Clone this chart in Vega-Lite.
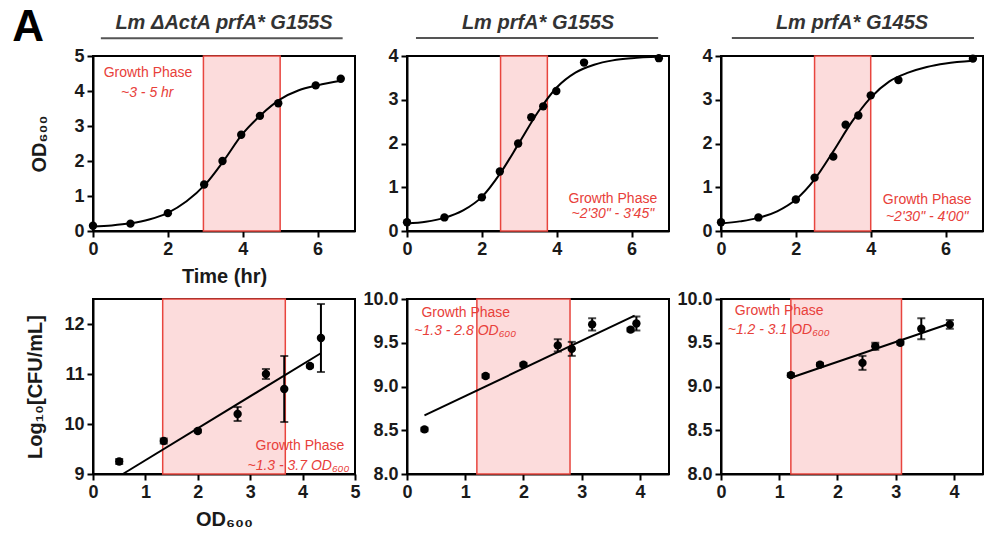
{
  "$schema": "https://vega.github.io/schema/vega-lite/v6.json",
  "padding": {"left": 11, "top": 5, "right": 5, "bottom": 5},
  "config": {
    "font": "Liberation Sans",
    "view": {"stroke": "black", "strokeWidth": 2},
    "axis": {"grid": false, "domainColor": "black", "domainWidth": 2, "tickColor": "black", "tickWidth": 2, "tickSize": 6, "labelFont": "Liberation Sans", "labelFontSize": 18, "labelFontWeight": "bold", "labelColor": "#1a1a1a", "labelPadding": 3, "labelFlush": false, "labelOverlap": false, "titleFont": "Liberation Sans", "titleFontSize": 20, "titleFontWeight": "bold", "titleColor": "#1a1a1a"},
    "axisY": {"titlePadding": 22},
    "axisX": {"titlePadding": 8},
    "title": {"font": "Liberation Sans", "fontSize": 20, "fontWeight": "bold", "fontStyle": "italic", "color": "#333333", "offset": 4}
  },
  "columns": 3,
  "spacing": {"row": 68, "column": 52},
  "bounds": "flush",
  "concat": [
    {
      "width": 262, "height": 175,
      "title": "Lm ΔActA prfA* G155S",
      "layer": [
        {"data": {"values": [{"start": 2.95, "end": 5.0}]}, "mark": {"type": "rect", "fill": "#fcdcdc", "stroke": "#e8453e", "strokeWidth": 1.5}, "encoding": {"x": {"field": "start", "type": "quantitative", "title": "Time (hr)"}, "x2": {"field": "end"}}},
        {"data": {"values": [{}]}, "mark": {"type": "rule", "color": "#555555", "strokeWidth": 2}, "encoding": {"x": {"datum": 0.21}, "x2": {"datum": 6.67}, "y": {"datum": 5.51}}},
        {"data": {"values": [{}]}, "mark": {"type": "text", "text": "Growth Phase", "fontSize": 14, "color": "#e8403a", "align": "center", "baseline": "alphabetic"}, "encoding": {"x": {"datum": 1.47}, "y": {"datum": 4.39}}},
        {"data": {"values": [{}]}, "mark": {"type": "text", "text": "~3 - 5 hr", "fontSize": 14, "fontStyle": "italic", "color": "#e8403a", "align": "center", "baseline": "alphabetic"}, "encoding": {"x": {"datum": 1.45}, "y": {"datum": 3.84}}},
        {"data": {"values": [{"t":0,"od":0.13},{"t":0.5,"od":0.16},{"t":1,"od":0.22},{"t":1.5,"od":0.33},{"t":2,"od":0.52},{"t":2.5,"od":0.85},{"t":3,"od":1.33},{"t":3.5,"od":2.02},{"t":4,"od":2.78},{"t":4.5,"od":3.33},{"t":5,"od":3.76},{"t":5.5,"od":4.02},{"t":6,"od":4.16},{"t":6.62,"od":4.29}]}, "mark": {"type": "line", "color": "black", "strokeWidth": 2, "interpolate": "monotone"}, "encoding": {"x": {"field": "t", "type": "quantitative", "title": "Time (hr)"}, "y": {"field": "od", "type": "quantitative", "title": "OD₆₀₀"}}},
        {"data": {"values": [{"t":0,"od":0.15},{"t":1,"od":0.21},{"t":2,"od":0.51},{"t":2.97,"od":1.33},{"t":3.46,"od":2.0},{"t":3.96,"od":2.75},{"t":4.46,"od":3.29},{"t":4.95,"od":3.65},{"t":5.95,"od":4.16},{"t":6.62,"od":4.35}]}, "mark": {"type": "circle", "color": "black", "size": 70, "opacity": 1}, "encoding": {
          "x": {"field": "t", "type": "quantitative", "scale": {"domain": [0, 7], "nice": false}, "axis": {"title": "Time (hr)", "values": [0,2,4,6], "format": "d", "labelOverlap": false}},
          "y": {"field": "od", "type": "quantitative", "scale": {"domain": [0, 5], "nice": false}, "axis": {"title": "OD₆₀₀", "titlePadding": 24, "values": [0,1,2,3,4,5], "tickCount": 6, "format": "d", "labelOverlap": false}}}}
      ]
    },
    {
      "width": 262, "height": 175,
      "title": "Lm prfA* G155S",
      "layer": [
        {"data": {"values": [{"start": 2.5, "end": 3.75}]}, "mark": {"type": "rect", "fill": "#fcdcdc", "stroke": "#e8453e", "strokeWidth": 1.5}, "encoding": {"x": {"field": "start", "type": "quantitative", "title": null}, "x2": {"field": "end"}}},
        {"data": {"values": [{}]}, "mark": {"type": "rule", "color": "#555555", "strokeWidth": 2}, "encoding": {"x": {"datum": 0.24}, "x2": {"datum": 6.71}, "y": {"datum": 4.41}}},
        {"data": {"values": [{}]}, "mark": {"type": "text", "text": "Growth Phase", "fontSize": 14, "color": "#e8403a", "align": "center", "baseline": "alphabetic"}, "encoding": {"x": {"datum": 5.5}, "y": {"datum": 0.63}}},
        {"data": {"values": [{}]}, "mark": {"type": "text", "text": "~2'30\" - 3'45\"", "fontSize": 14, "fontStyle": "italic", "color": "#e8403a", "align": "center", "baseline": "alphabetic"}, "encoding": {"x": {"datum": 5.5}, "y": {"datum": 0.29}}},
        {"data": {"values": [{"t":0,"od":0.17},{"t":0.5,"od":0.21},{"t":1,"od":0.3},{"t":1.5,"od":0.47},{"t":2,"od":0.78},{"t":2.5,"od":1.33},{"t":3,"od":2.02},{"t":3.5,"od":2.72},{"t":4,"od":3.28},{"t":4.5,"od":3.62},{"t":5,"od":3.8},{"t":5.5,"od":3.9},{"t":6,"od":3.95},{"t":6.73,"od":3.98}]}, "mark": {"type": "line", "color": "black", "strokeWidth": 2, "interpolate": "monotone"}, "encoding": {"x": {"field": "t", "type": "quantitative", "title": null}, "y": {"field": "od", "type": "quantitative", "title": null}}},
        {"data": {"values": [{"t":0,"od":0.2},{"t":1,"od":0.31},{"t":2,"od":0.77},{"t":2.48,"od":1.36},{"t":2.97,"od":2.0},{"t":3.32,"od":2.6},{"t":3.64,"od":2.85},{"t":3.99,"od":3.2},{"t":4.73,"od":3.85},{"t":6.73,"od":3.95}]}, "mark": {"type": "circle", "color": "black", "size": 70, "opacity": 1}, "encoding": {
          "x": {"field": "t", "type": "quantitative", "scale": {"domain": [0, 7], "nice": false}, "axis": {"title": null, "values": [0,2,4,6], "format": "d", "labelOverlap": false}},
          "y": {"field": "od", "type": "quantitative", "scale": {"domain": [0, 4], "nice": false}, "axis": {"title": null, "values": [0,1,2,3,4], "format": "d", "labelOverlap": false}}}}
      ]
    },
    {
      "width": 262, "height": 175,
      "title": "Lm prfA* G145S",
      "layer": [
        {"data": {"values": [{"start": 2.5, "end": 4.0}]}, "mark": {"type": "rect", "fill": "#fcdcdc", "stroke": "#e8453e", "strokeWidth": 1.5}, "encoding": {"x": {"field": "start", "type": "quantitative", "title": null}, "x2": {"field": "end"}}},
        {"data": {"values": [{}]}, "mark": {"type": "rule", "color": "#555555", "strokeWidth": 2}, "encoding": {"x": {"datum": 0.29}, "x2": {"datum": 6.76}, "y": {"datum": 4.41}}},
        {"data": {"values": [{}]}, "mark": {"type": "text", "text": "Growth Phase", "fontSize": 14, "color": "#e8403a", "align": "center", "baseline": "alphabetic"}, "encoding": {"x": {"datum": 5.51}, "y": {"datum": 0.62}}},
        {"data": {"values": [{}]}, "mark": {"type": "text", "text": "~2'30\" - 4'00\"", "fontSize": 14, "fontStyle": "italic", "color": "#e8403a", "align": "center", "baseline": "alphabetic"}, "encoding": {"x": {"datum": 5.51}, "y": {"datum": 0.24}}},
        {"data": {"values": [{"t":0,"od":0.17},{"t":0.5,"od":0.22},{"t":1,"od":0.3},{"t":1.5,"od":0.45},{"t":2,"od":0.72},{"t":2.5,"od":1.18},{"t":3,"od":1.82},{"t":3.5,"od":2.5},{"t":4,"od":3.05},{"t":4.5,"od":3.42},{"t":5,"od":3.62},{"t":5.5,"od":3.75},{"t":6,"od":3.83},{"t":6.73,"od":3.89}]}, "mark": {"type": "line", "color": "black", "strokeWidth": 2, "interpolate": "monotone"}, "encoding": {"x": {"field": "t", "type": "quantitative", "title": null}, "y": {"field": "od", "type": "quantitative", "title": null}}},
        {"data": {"values": [{"t":0,"od":0.2},{"t":1,"od":0.31},{"t":2,"od":0.72},{"t":2.5,"od":1.22},{"t":3,"od":1.7},{"t":3.33,"od":2.43},{"t":3.67,"od":2.64},{"t":4,"od":3.1},{"t":4.74,"od":3.45},{"t":6.73,"od":3.94}]}, "mark": {"type": "circle", "color": "black", "size": 70, "opacity": 1}, "encoding": {
          "x": {"field": "t", "type": "quantitative", "scale": {"domain": [0, 7], "nice": false}, "axis": {"title": null, "values": [0,2,4,6], "format": "d", "labelOverlap": false}},
          "y": {"field": "od", "type": "quantitative", "scale": {"domain": [0, 4], "nice": false}, "axis": {"title": null, "values": [0,1,2,3,4], "format": "d", "labelOverlap": false}}}}
      ]
    },
    {
      "width": 262, "height": 175,
      "layer": [
        {"data": {"values": [{"start": 1.33, "end": 3.67}]}, "mark": {"type": "rect", "fill": "#fcdcdc", "stroke": "#e8453e", "strokeWidth": 1.5}, "encoding": {"x": {"field": "start", "type": "quantitative", "title": "OD₆₀₀"}, "x2": {"field": "end"}}},
        {"data": {"values": [{}]}, "mark": {"type": "text", "text": "Growth Phase", "fontSize": 14, "color": "#e8403a", "align": "center", "baseline": "alphabetic"}, "encoding": {"x": {"datum": 3.95}, "y": {"datum": 9.48}}},
        {"data": {"values": [{}]}, "mark": {"type": "text", "text": "~1.3 - 3.7 OD₆₀₀", "fontSize": 14, "fontStyle": "italic", "color": "#e8403a", "align": "center", "baseline": "alphabetic"}, "encoding": {"x": {"datum": 3.92}, "y": {"datum": 9.075}}},
        {"data": {"values": [{}]}, "mark": {"type": "text", "text": "A", "fontSize": 44, "fontWeight": "bold", "color": "black", "align": "center", "baseline": "alphabetic"}, "encoding": {"x": {"datum": -1.24}, "y": {"datum": 17.66}}},
        {"data": {"values": [{"od":0.57,"cfu":9.0},{"od":4.34,"cfu":11.41}]}, "mark": {"type": "line", "color": "black", "strokeWidth": 2}, "encoding": {"x": {"field": "od", "type": "quantitative", "title": "OD₆₀₀"}, "y": {"field": "cfu", "type": "quantitative", "title": "Log₁₀[CFU/mL]"}}},
        {"data": {"values": [{"od":0.5,"cfu":9.25,"err":0.05},{"od":1.35,"cfu":9.66,"err":0.05},{"od":2.0,"cfu":9.86,"err":0.03},{"od":2.76,"cfu":10.2,"err":0.14},{"od":3.3,"cfu":11.0,"err":0.1},{"od":3.65,"cfu":10.7,"err":0.66},{"od":4.14,"cfu":11.16,"err":0.03},{"od":4.35,"cfu":11.72,"err":0.68}]}, "mark": {"type": "errorbar", "ticks": true, "thickness": 2, "size": 8, "color": "black"}, "encoding": {"x": {"field": "od", "type": "quantitative", "title": "OD₆₀₀"}, "y": {"field": "cfu", "type": "quantitative", "title": "Log₁₀[CFU/mL]"}, "yError": {"field": "err"}}},
        {"data": {"values": [{"od":0.5,"cfu":9.25},{"od":1.35,"cfu":9.66},{"od":2.0,"cfu":9.86},{"od":2.76,"cfu":10.2},{"od":3.3,"cfu":11.0},{"od":3.65,"cfu":10.7},{"od":4.14,"cfu":11.16},{"od":4.35,"cfu":11.72}]}, "mark": {"type": "circle", "color": "black", "size": 70, "opacity": 1}, "encoding": {
          "x": {"field": "od", "type": "quantitative", "scale": {"domain": [0, 5], "nice": false}, "axis": {"title": "OD₆₀₀", "values": [0,1,2,3,4,5], "tickCount": 6, "format": "d", "labelOverlap": false}},
          "y": {"field": "cfu", "type": "quantitative", "scale": {"domain": [9, 12.5], "nice": false, "zero": false}, "axis": {"title": "Log₁₀[CFU/mL]", "titlePadding": 18, "values": [9,10,11,12], "format": "d", "labelOverlap": false}}}}
      ]
    },
    {
      "width": 262, "height": 175,
      "layer": [
        {"data": {"values": [{"start": 1.2, "end": 2.8}]}, "mark": {"type": "rect", "fill": "#fcdcdc", "stroke": "#e8453e", "strokeWidth": 1.5}, "encoding": {"x": {"field": "start", "type": "quantitative", "title": null}, "x2": {"field": "end"}}},
        {"data": {"values": [{}]}, "mark": {"type": "text", "text": "Growth Phase", "fontSize": 14, "color": "#e8403a", "align": "center", "baseline": "alphabetic"}, "encoding": {"x": {"datum": 1.01}, "y": {"datum": 9.8}}},
        {"data": {"values": [{}]}, "mark": {"type": "text", "text": "~1.3 - 2.8 OD₆₀₀", "fontSize": 14, "fontStyle": "italic", "color": "#e8403a", "align": "center", "baseline": "alphabetic"}, "encoding": {"x": {"datum": 1.0}, "y": {"datum": 9.59}}},
        {"data": {"values": [{"od":0.3,"cfu":8.67},{"od":3.91,"cfu":9.81}]}, "mark": {"type": "line", "color": "black", "strokeWidth": 2}, "encoding": {"x": {"field": "od", "type": "quantitative", "title": null}, "y": {"field": "cfu", "type": "quantitative", "title": null}}},
        {"data": {"values": [{"od":0.3,"cfu":8.51,"err":0.02},{"od":1.35,"cfu":9.12,"err":0.02},{"od":2.0,"cfu":9.25,"err":0.02},{"od":2.59,"cfu":9.47,"err":0.07},{"od":2.83,"cfu":9.43,"err":0.08},{"od":3.18,"cfu":9.71,"err":0.07},{"od":3.84,"cfu":9.65,"err":0.02},{"od":3.94,"cfu":9.72,"err":0.08}]}, "mark": {"type": "errorbar", "ticks": true, "thickness": 2, "size": 8, "color": "black"}, "encoding": {"x": {"field": "od", "type": "quantitative", "title": null}, "y": {"field": "cfu", "type": "quantitative", "title": null}, "yError": {"field": "err"}}},
        {"data": {"values": [{"od":0.3,"cfu":8.51},{"od":1.35,"cfu":9.12},{"od":2.0,"cfu":9.25},{"od":2.59,"cfu":9.47},{"od":2.83,"cfu":9.43},{"od":3.18,"cfu":9.71},{"od":3.84,"cfu":9.65},{"od":3.94,"cfu":9.72}]}, "mark": {"type": "circle", "color": "black", "size": 70, "opacity": 1}, "encoding": {
          "x": {"field": "od", "type": "quantitative", "scale": {"domain": [0, 4.5], "nice": false}, "axis": {"title": null, "values": [0,1,2,3,4], "format": "d", "labelOverlap": false}},
          "y": {"field": "cfu", "type": "quantitative", "scale": {"domain": [8, 10], "nice": false, "zero": false}, "axis": {"title": null, "values": [8,8.5,9,9.5,10], "format": ".1f", "labelOverlap": false}}}}
      ]
    },
    {
      "width": 262, "height": 175,
      "layer": [
        {"data": {"values": [{"start": 1.2, "end": 3.1}]}, "mark": {"type": "rect", "fill": "#fcdcdc", "stroke": "#e8453e", "strokeWidth": 1.5}, "encoding": {"x": {"field": "start", "type": "quantitative", "title": null}, "x2": {"field": "end"}}},
        {"data": {"values": [{}]}, "mark": {"type": "text", "text": "Growth Phase", "fontSize": 14, "color": "#e8403a", "align": "center", "baseline": "alphabetic"}, "encoding": {"x": {"datum": 1.0}, "y": {"datum": 9.82}}},
        {"data": {"values": [{}]}, "mark": {"type": "text", "text": "~1.2 - 3.1 OD₆₀₀", "fontSize": 14, "fontStyle": "italic", "color": "#e8403a", "align": "center", "baseline": "alphabetic"}, "encoding": {"x": {"datum": 0.99}, "y": {"datum": 9.6}}},
        {"data": {"values": [{"od":1.2,"cfu":9.1},{"od":3.93,"cfu":9.72}]}, "mark": {"type": "line", "color": "black", "strokeWidth": 2}, "encoding": {"x": {"field": "od", "type": "quantitative", "title": null}, "y": {"field": "cfu", "type": "quantitative", "title": null}}},
        {"data": {"values": [{"od":1.2,"cfu":9.13,"err":0.02},{"od":1.7,"cfu":9.25,"err":0.02},{"od":2.43,"cfu":9.27,"err":0.08},{"od":2.65,"cfu":9.46,"err":0.04},{"od":3.08,"cfu":9.5,"err":0.02},{"od":3.44,"cfu":9.66,"err":0.12},{"od":3.93,"cfu":9.71,"err":0.05}]}, "mark": {"type": "errorbar", "ticks": true, "thickness": 2, "size": 8, "color": "black"}, "encoding": {"x": {"field": "od", "type": "quantitative", "title": null}, "y": {"field": "cfu", "type": "quantitative", "title": null}, "yError": {"field": "err"}}},
        {"data": {"values": [{"od":1.2,"cfu":9.13},{"od":1.7,"cfu":9.25},{"od":2.43,"cfu":9.27},{"od":2.65,"cfu":9.46},{"od":3.08,"cfu":9.5},{"od":3.44,"cfu":9.66},{"od":3.93,"cfu":9.71}]}, "mark": {"type": "circle", "color": "black", "size": 70, "opacity": 1}, "encoding": {
          "x": {"field": "od", "type": "quantitative", "scale": {"domain": [0, 4.5], "nice": false}, "axis": {"title": null, "values": [0,1,2,3,4], "format": "d", "labelOverlap": false}},
          "y": {"field": "cfu", "type": "quantitative", "scale": {"domain": [8, 10], "nice": false, "zero": false}, "axis": {"title": null, "values": [8,8.5,9,9.5,10], "format": ".1f", "labelOverlap": false}}}}
      ]
    }
  ]
}
